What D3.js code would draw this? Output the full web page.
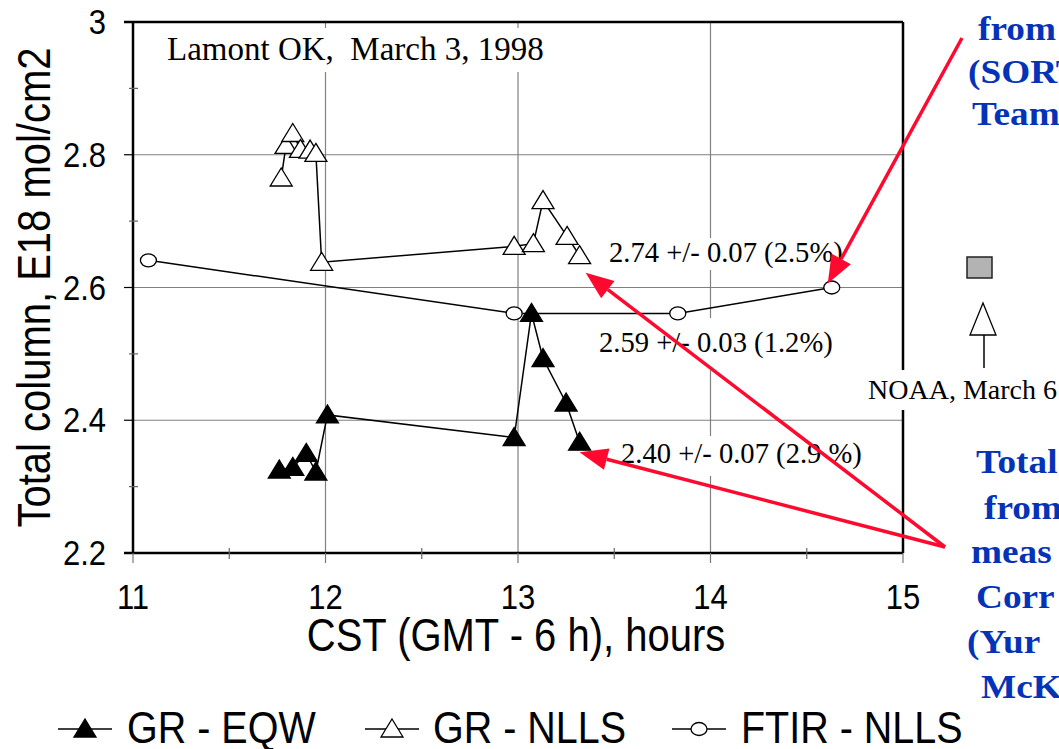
<!DOCTYPE html>
<html>
<head>
<meta charset="utf-8">
<script src="https://cdn.jsdelivr.net/npm/d3@7"></script>
<style>
  body { margin: 0; background: #fff; }
  svg { display: block; }
  .sans { font-family: Arial, "Liberation Sans", sans-serif; fill: #000; }
  .serif { font-family: "Times New Roman", "Liberation Serif", serif; fill: #000; white-space: pre; }
  .blue { font-family: "Times New Roman", "Liberation Serif", serif; font-weight: bold; fill: #0533b8; }
</style>
</head>
<body>
<svg id="chart" width="1059" height="749"></svg>
<script>
// data (hours CST, total column E18 mol/cm2)
var eqwTime = [11.76, 11.83, 11.90, 11.95, 12.01, 12.98, 13.07, 13.13, 13.25, 13.32];
var eqwValue = [2.325, 2.329, 2.350, 2.322, 2.408, 2.374, 2.561, 2.493, 2.426, 2.367];

var nllsTime = [11.77, 11.795, 11.83, 11.87, 11.92, 11.95, 11.98, 12.98, 13.08, 13.13, 13.255, 13.32];
var nllsValue = [2.765, 2.814, 2.832, 2.808, 2.807, 2.802, 2.638, 2.662, 2.666, 2.731, 2.677, 2.648];

var ftirTime = [11.08, 12.98, 13.83, 14.63];
var ftirValue = [2.641, 2.561, 2.561, 2.600];

var xTicks = [11, 12, 13, 14, 15];
var yTicks = [2.2, 2.4, 2.6, 2.8, 3];
var legendLabels = ['GR - EQW', 'GR - NLLS', 'FTIR - NLLS'];
var statLabels = ['2.74 +/- 0.07 (2.5%)', '2.59 +/- 0.03 (1.2%)', '2.40 +/- 0.07 (2.9 %)'];

var svg = d3.select('#chart');
var pLeft = 133, pRight = 903, pTop = 22, pBottom = 553;

var x = d3.scaleLinear().domain([11, 15]).range([pLeft, pRight]);
var y = d3.scaleLinear().domain([2.2, 3]).range([pBottom, pTop]);

function zip(a, b) {
	return a.map(function(v, i) { return {t: v, v: b[i]}; });
}
var eqw = zip(eqwTime, eqwValue);
var nlls = zip(nllsTime, nllsValue);
var ftir = zip(ftirTime, ftirValue);

// narrow-looking sans text: the original glyphs are taller than Arial's
function sansText(g, px, py, str, size, anchor, rot) {
	return g.append('text')
		.attr('class', 'sans')
		.attr('transform', 'translate(' + px + ',' + py + ')' + (rot ? ' rotate(' + rot + ')' : '') + ' scale(1,1.14)')
		.attr('text-anchor', anchor || 'start')
		.style('font-size', size + 'px')
		.text(str);
}

// ===========================================================================================
// grid
var grid = svg.append('g');
grid.selectAll('.vg').data(xTicks.slice(1, -1)).enter().append('line')
	.attr('x1', function(d) { return x(d); }).attr('x2', function(d) { return x(d); })
	.attr('y1', pTop).attr('y2', pBottom)
	.attr('stroke', '#808080').attr('stroke-width', 1.2);
grid.selectAll('.hg').data(yTicks.slice(1, -1)).enter().append('line')
	.attr('y1', function(d) { return y(d); }).attr('y2', function(d) { return y(d); })
	.attr('x1', pLeft).attr('x2', pRight)
	.attr('stroke', '#808080').attr('stroke-width', 1.2);

// white boxes that sit behind the texts and hide the grid
function whiteBox(x0, y0, w, h) {
	svg.append('rect').attr('x', x0).attr('y', y0).attr('width', w).attr('height', h).attr('fill', '#fff');
}
whiteBox(136, 28, 424, 44);
whiteBox(603, 238, 250, 32);
whiteBox(592, 318, 250, 52);
whiteBox(614, 436, 256, 40);
whiteBox(864, 370, 195, 40);

// ===========================================================================================
// axes
var axes = svg.append('g').attr('stroke', '#000');
axes.append('line').attr('x1', pLeft).attr('x2', pLeft).attr('y1', pTop).attr('y2', pBottom).attr('stroke-width', 2.5);
axes.append('line').attr('x1', pLeft - 9).attr('x2', pRight).attr('y1', pBottom).attr('y2', pBottom).attr('stroke-width', 2.5);
axes.append('line').attr('x1', pLeft - 9).attr('x2', pRight).attr('y1', pTop).attr('y2', pTop).attr('stroke-width', 2.5);
axes.append('line').attr('x1', pRight).attr('x2', pRight).attr('y1', pTop).attr('y2', 370).attr('stroke-width', 2.5);
axes.append('line').attr('x1', pRight).attr('x2', pRight).attr('y1', 410).attr('y2', pBottom).attr('stroke-width', 2.5);

axes.selectAll('.yt').data(yTicks).enter().append('line')
	.attr('x1', pLeft - 9).attr('x2', pLeft)
	.attr('y1', function(d) { return y(d); }).attr('y2', function(d) { return y(d); })
	.attr('stroke-width', 1.2);
axes.selectAll('.ym').data(d3.range(2.3, 3, 0.2)).enter().append('line')
	.attr('x1', pLeft - 4).attr('x2', pLeft + 5)
	.attr('y1', function(d) { return y(d); }).attr('y2', function(d) { return y(d); })
	.attr('stroke', '#666').attr('stroke-width', 1.2);
axes.selectAll('.xt').data(xTicks).enter().append('line')
	.attr('x1', function(d) { return x(d); }).attr('x2', function(d) { return x(d); })
	.attr('y1', pBottom).attr('y2', pBottom + 10)
	.attr('stroke', '#777').attr('stroke-width', 1.2);
axes.selectAll('.xm').data(d3.range(11.5, 15, 1)).enter().append('line')
	.attr('x1', function(d) { return x(d); }).attr('x2', function(d) { return x(d); })
	.attr('y1', pBottom - 5).attr('y2', pBottom + 6)
	.attr('stroke', '#666').attr('stroke-width', 1.2);

yTicks.forEach(function(d) {
	sansText(svg, 106, y(d) + 12, d3.format('')(d), 31, 'end');
});
xTicks.forEach(function(d) {
	sansText(svg, x(d), 609, d, 31, 'middle');
});
sansText(svg, 516, 651, 'CST (GMT - 6 h), hours', 40, 'middle');
sansText(svg, 50, (pTop + pBottom) / 2, 'Total column, E18 mol/cm2', 40, 'middle', -90);

// ===========================================================================================
// series
var tri = 'M0,-10L11,8L-11,8Z';
var line = d3.line().x(function(d) { return x(d.t); }).y(function(d) { return y(d.v); });

function series(data, kind) {
	var g = svg.append('g');
	g.append('path').attr('d', line(data)).attr('fill', 'none').attr('stroke', '#000').attr('stroke-width', 1.5);
	if (kind === 'circle') {
		g.selectAll('ellipse').data(data).enter().append('ellipse')
			.attr('cx', function(d) { return x(d.t); }).attr('cy', function(d) { return y(d.v); })
			.attr('rx', 8).attr('ry', 6.5)
			.attr('fill', '#fff').attr('stroke', '#000').attr('stroke-width', 1.3);
	} else {
		g.selectAll('path.m').data(data).enter().append('path')
			.attr('class', 'm')
			.attr('d', tri)
			.attr('transform', function(d) { return 'translate(' + x(d.t) + ',' + y(d.v) + ')'; })
			.attr('fill', kind === 'filled' ? '#000' : '#fff')
			.attr('stroke', '#000').attr('stroke-width', 1.3);
	}
}
series(ftir, 'circle');
series(nlls, 'open');
series(eqw, 'filled');

// ===========================================================================================
// annotations
function serifText(px, py, str, size) {
	svg.append('text').attr('class', 'serif').attr('x', px).attr('y', py)
		.style('font-size', size + 'px').text(str);
}
serifText(167, 60, 'Lamont OK,  March 3, 1998', 33);
serifText(609, 262, statLabels[0], 28.6);
serifText(599, 352, statLabels[1], 28.6);
serifText(621, 463, statLabels[2], 28.6);
serifText(868, 399, 'NOAA, March 6', 28);

svg.append('rect').attr('x', 967).attr('y', 257).attr('width', 25).attr('height', 21)
	.attr('fill', '#b3b3b3').attr('stroke', '#222').attr('stroke-width', 1.5);
svg.append('path').attr('d', 'M983,303L996,335L970,335Z')
	.attr('fill', '#fff').attr('stroke', '#000').attr('stroke-width', 1.3);
svg.append('line').attr('x1', 984).attr('x2', 984).attr('y1', 335).attr('y2', 368)
	.attr('stroke', '#000').attr('stroke-width', 1.5);

// the blue notes run off the right edge of the slide
var blueTop = [['from', 978, 40], ['(SORT', 968, 83], ['Team', 972, 125]];
var blueBottom = [['Total', 976, 473], ['from', 984, 519], ['meas', 971, 563], ['Corr', 976, 608], ['(Yur', 967, 653], ['McK', 981, 698]];
blueTop.concat(blueBottom).forEach(function(b) {
	svg.append('text').attr('class', 'blue')
		.attr('transform', 'translate(' + b[1] + ',' + b[2] + ') scale(1.13,1)')
		.style('font-size', '33px').text(b[0]);
});

// red arrows, tips taken from the last point of each series
var red = '#ff0a2e';
function arrow(x0, y0, x1, y1) {
	var a = Math.atan2(y1 - y0, x1 - x0), len = 28, hw = 11;
	var bx = x1 - len * Math.cos(a), by = y1 - len * Math.sin(a);
	svg.append('line').attr('x1', x0).attr('y1', y0).attr('x2', bx).attr('y2', by)
		.attr('stroke', red).attr('stroke-width', 3.5);
	svg.append('path')
		.attr('d', 'M' + x1 + ',' + y1 +
			'L' + (bx + hw * Math.sin(a)) + ',' + (by - hw * Math.cos(a)) +
			'L' + (bx - hw * Math.sin(a)) + ',' + (by + hw * Math.cos(a)) + 'Z')
		.attr('fill', red);
}
var lastF = ftir[ftir.length - 1], lastN = nlls[nlls.length - 1], lastE = eqw[eqw.length - 1];
arrow(962, 38, x(lastF.t) - 4, y(lastF.v) - 4);
arrow(945, 547, x(lastN.t) + 6, y(lastN.v) + 17);
arrow(945, 547, x(lastE.t), y(lastE.v) + 10);

// ===========================================================================================
// legend
var legend = svg.append('g');
var legendX = [58, 365, 672];
var textX = [127, 433, 741];
legendLabels.forEach(function(name, i) {
	var cx = legendX[i] + 27;
	legend.append('line').attr('x1', legendX[i]).attr('x2', legendX[i] + 54).attr('y1', 729).attr('y2', 729)
		.attr('stroke', '#000').attr('stroke-width', 1.5);
	if (i === 2) {
		legend.append('ellipse').attr('cx', cx).attr('cy', 729).attr('rx', 8).attr('ry', 6.5)
			.attr('fill', '#fff').attr('stroke', '#000').attr('stroke-width', 1.3);
	} else {
		legend.append('path').attr('d', tri).attr('transform', 'translate(' + cx + ',729)')
			.attr('fill', i === 0 ? '#000' : '#fff').attr('stroke', '#000').attr('stroke-width', 1.3);
	}
	sansText(legend, textX[i], 743, name, 39.5, 'start');
});
</script>
</body>
</html>
